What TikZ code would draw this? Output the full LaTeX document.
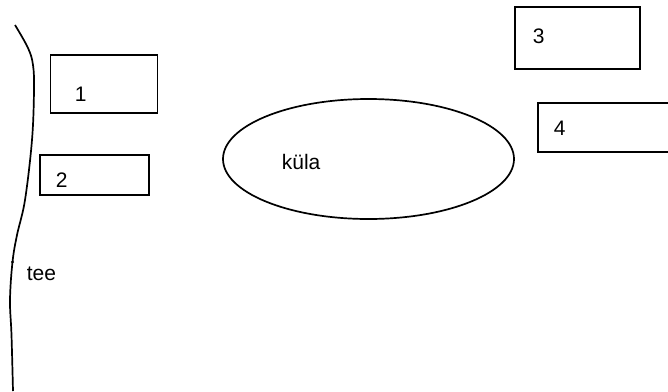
\documentclass[tikz,border=0pt]{standalone}
\usepackage{fontspec}
\setmainfont{Liberation Sans}
\usetikzlibrary{shapes.geometric}
\begin{document}
\begin{tikzpicture}[x=1pt,y=-1pt,
  lbl/.style={inner sep=0pt,font=\fontsize{21}{23}\selectfont,anchor=west},
  plate/.style={draw,inner sep=0pt},
  line width=1.7pt]
\useasboundingbox (0,0) rectangle (668,391);
% shoreline
\draw plot[smooth,tension=0.6] coordinates
  {(15,25) (28,48) (33,65) (34,90) (32,140) (25,200) (17,235) (12.5,262) (10,300) (11.5,335) (13,391)};
\fill (12.5,262) circle (1.6pt);
% rectangles
\node[plate,minimum width=107pt,minimum height=58pt] (b1) at (104,84) {};
\node[plate,minimum width=109pt,minimum height=40pt] (b2) at (94.5,175) {};
\node[plate,minimum width=125pt,minimum height=62pt] (b3) at (577.5,38) {};
\node[plate,minimum width=132pt,minimum height=49pt] (b4) at (604,127.5) {};
\node[lbl] (t1) at (74,94) {1};
\node[lbl] (t2) at (55,180) {2};
\node[lbl] (t3) at (532,36) {3};
\node[lbl] (t4) at (553,128) {4};
% pond
\node[plate,ellipse,minimum width=291pt,minimum height=120pt] (k) at (368.5,159) {};
\node[lbl] (kt) at (281,162) {küla};
\node[lbl] (tee) at (26,274) {tee};
\end{tikzpicture}
\end{document}
